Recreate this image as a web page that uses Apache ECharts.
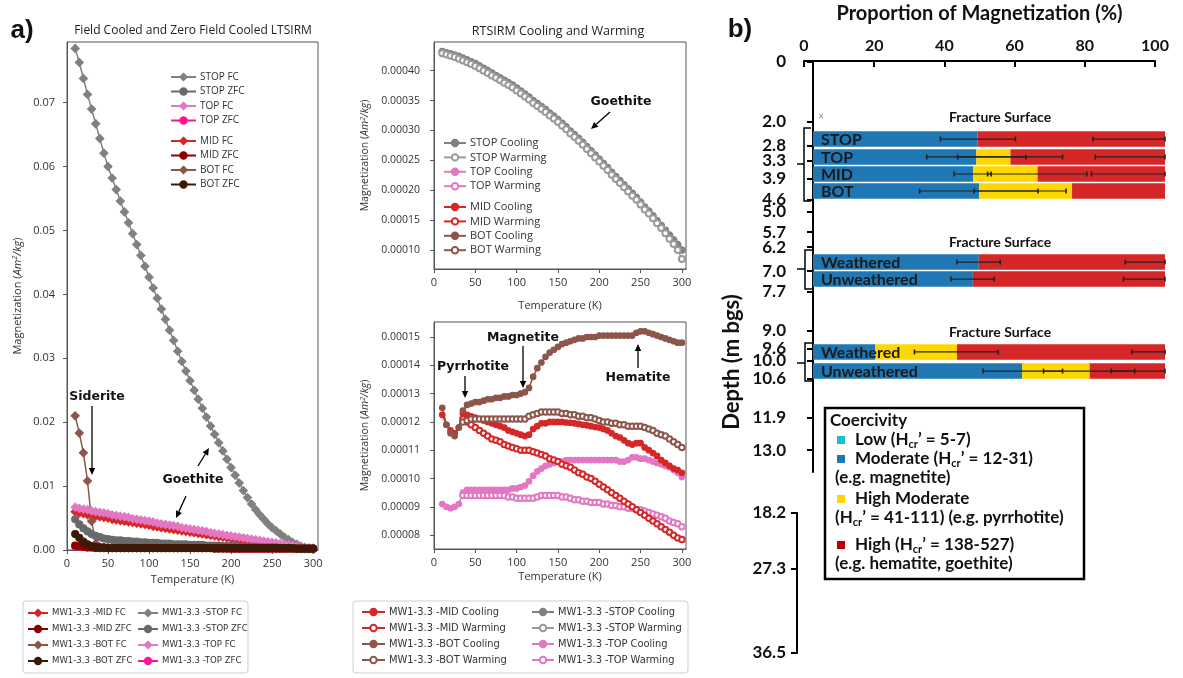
<!DOCTYPE html>
<html>
<head>
<meta charset="utf-8">
<title>LTSIRM / RTSIRM and coercivity proportions</title>
<script src="https://cdn.jsdelivr.net/npm/echarts@6.0.0/dist/echarts.min.js"></script>
<style>
  html, body { margin: 0; padding: 0; background: #fff; }
  #main { width: 1183px; height: 678px; }
</style>
</head>
<body>
<div id="main"></div>
<script>
// temperature steps (K), shared by all curves
var temps = [10,15,20,25,30,35,40,45,50,55,60,65,70,75,80,85,90,95,100,105,110,115,120,125,130,135,140,145,150,155,
  160,165,170,175,180,185,190,195,200,205,210,215,220,225,230,235,240,245,250,255,260,265,270,275,280,285,290,295,300];

// panel a, left: LTSIRM (Am2/kg)
var stopFC = [.0785,.0763,.0738,.0713,.0690,.0667,.0644,.0621,.0600,.0582,
  .0564,.0546,.0529,.0512,.0495,.0478,.0461,.0444,.0427,.0410,
  .0394,.0377,.0361,.0344,.0328,.0311,.0295,.0280,.0265,.0250,
  .0236,.0222,.0208,.0194,.0181,.0168,.0155,.0142,.0129,.0117,
  .0105,.0093,.0082,.0072,.0063,.0055,.0048,.0041,.0035,.0030,
  .0025,.0020,.0016,.0012,.0009,.0006,.0004,.0002,.0001];
var stopZFC = [.0048,.0040,.0034,.0029,.0025,.0022,.0020,.0018,.0017,.0016,
  .0015,.0015,.0014,.0014,.0013,.0013,.0012,.0012,.0011,.0011,
  .0011,.0010,.0010,.0010,.0009,.0009,.0009,.0009,.0008,.0008,
  .0008,.0008,.0007,.0007,.0007,.0007,.0006,.0006,.0006,.0006,
  .0005,.0005,.0005,.0005,.0005,.0004,.0004,.0004,.0004,.0004,
  .0003,.0003,.0003,.0003,.0003,.0002,.0002,.0002,.0002];
var topFC = [.0067,.0065,.0064,.0063,.0061,.0060,.0059,.0058,.0057,.0055,
  .0054,.0053,.0052,.0051,.0049,.0048,.0047,.0046,.0045,.0044,
  .0042,.0041,.0040,.0039,.0038,.0037,.0035,.0034,.0033,.0032,
  .0031,.0030,.0029,.0027,.0026,.0025,.0024,.0023,.0022,.0021,
  .0020,.0019,.0018,.0017,.0016,.0015,.0014,.0013,.0012,.0011,
  .0010,.0009,.0008,.0007,.0006,.0005,.0004,.0003,.0003];
var topZFC = [.0006,.0005,.0005,.0004,.0004,.0004,.0003,.0003,.0003,.0003,
  .0003,.0003,.0003,.0003,.0003,.0003,.0003,.0003,.0003,.0003,
  .0003,.0003,.0003,.0003,.0003,.0003,.0003,.0003,.0003,.0003,
  .0003,.0003,.0003,.0003,.0003,.0003,.0003,.0003,.0002,.0002,
  .0002,.0002,.0002,.0002,.0002,.0002,.0002,.0002,.0002,.0002,
  .0002,.0002,.0002,.0002,.0002,.0002,.0002,.0002,.0002];
var midFC = [.0060,.0058,.0057,.0055,.0054,.0053,.0052,.0051,.0050,.0048,
  .0047,.0046,.0045,.0044,.0043,.0042,.0041,.0040,.0039,.0037,
  .0036,.0035,.0034,.0033,.0032,.0031,.0030,.0029,.0028,.0027,
  .0026,.0025,.0024,.0023,.0022,.0021,.0020,.0019,.0018,.0017,
  .0016,.0015,.0014,.0013,.0012,.0011,.0011,.0010,.0009,.0008,
  .0007,.0007,.0006,.0005,.0004,.0004,.0003,.0003,.0002];
var midZFC = [.0007,.0006,.0005,.0004,.0004,.0003,.0003,.0003,.0003,.0003,
  .0003,.0003,.0003,.0003,.0003,.0003,.0003,.0003,.0003,.0003,
  .0003,.0003,.0003,.0003,.0003,.0003,.0003,.0003,.0003,.0003,
  .0003,.0003,.0003,.0003,.0002,.0002,.0002,.0002,.0002,.0002,
  .0002,.0002,.0002,.0002,.0002,.0002,.0002,.0002,.0002,.0002,
  .0002,.0002,.0002,.0002,.0002,.0002,.0002,.0002,.0002];
var botFC = [.0210,.0183,.0152,.0108,.0045,.0010,.0005,.0004,.0004,.0004,
  .0004,.0004,.0004,.0004,.0004,.0004,.0004,.0004,.0004,.0004,
  .0004,.0004,.0004,.0004,.0004,.0004,.0004,.0004,.0004,.0004,
  .0004,.0004,.0004,.0004,.0004,.0004,.0003,.0003,.0003,.0003,
  .0003,.0003,.0003,.0003,.0003,.0003,.0003,.0003,.0003,.0003,
  .0003,.0003,.0003,.0002,.0002,.0002,.0002,.0002,.0002];
var botZFC = [.0025,.0019,.0013,.0009,.0006,.0005,.0004,.0004,.0003,.0003,
  .0003,.0003,.0003,.0003,.0003,.0003,.0003,.0003,.0003,.0003,
  .0003,.0003,.0003,.0003,.0003,.0003,.0003,.0003,.0003,.0003,
  .0003,.0003,.0003,.0003,.0003,.0003,.0003,.0003,.0003,.0003,
  .0003,.0003,.0003,.0003,.0003,.0003,.0003,.0003,.0003,.0003,
  .0003,.0003,.0003,.0003,.0002,.0002,.0002,.0002,.0002];

// panel a, middle: RTSIRM cooling / warming (Am2/kg)
var stopCool = [43.2e-5,43.0e-5,42.8e-5,42.6e-5,42.4e-5,42.1e-5,41.8e-5,41.5e-5,41.2e-5,40.8e-5,
  40.4e-5,40.0e-5,39.6e-5,39.2e-5,38.8e-5,38.4e-5,38.0e-5,37.6e-5,37.1e-5,36.6e-5,
  36.1e-5,35.6e-5,35.0e-5,34.5e-5,34.0e-5,33.5e-5,32.9e-5,32.4e-5,31.8e-5,31.2e-5,
  30.6e-5,29.9e-5,29.3e-5,28.7e-5,28.0e-5,27.3e-5,26.6e-5,25.9e-5,25.2e-5,24.5e-5,
  23.8e-5,23.0e-5,22.3e-5,21.6e-5,20.9e-5,20.2e-5,19.5e-5,18.8e-5,18.0e-5,17.2e-5,
  16.5e-5,15.7e-5,14.9e-5,14.1e-5,13.3e-5,12.5e-5,11.7e-5,10.9e-5,10.0e-5];
var stopWarm = [42.9e-5,42.7e-5,42.5e-5,42.3e-5,42.0e-5,41.7e-5,41.4e-5,41.1e-5,40.8e-5,40.4e-5,
  40.0e-5,39.6e-5,39.2e-5,38.8e-5,38.4e-5,38.0e-5,37.6e-5,37.2e-5,36.7e-5,36.2e-5,
  35.7e-5,35.2e-5,34.6e-5,34.1e-5,33.6e-5,33.1e-5,32.5e-5,32.0e-5,31.4e-5,30.8e-5,
  30.2e-5,29.5e-5,28.9e-5,28.3e-5,27.6e-5,26.9e-5,26.2e-5,25.5e-5,24.8e-5,24.1e-5,
  23.4e-5,22.6e-5,21.9e-5,21.2e-5,20.5e-5,19.8e-5,19.1e-5,18.4e-5,17.6e-5,16.8e-5,
  16.1e-5,15.3e-5,14.5e-5,13.7e-5,12.8e-5,11.9e-5,11.0e-5,10.0e-5,8.5e-5];
var botCool = [12.5e-5,11.9e-5,11.6e-5,11.5e-5,11.8e-5,12.4e-5,12.6e-5,12.65e-5,12.7e-5,12.7e-5,
  12.75e-5,12.8e-5,12.8e-5,12.85e-5,12.85e-5,12.9e-5,12.9e-5,12.95e-5,12.95e-5,13.0e-5,
  13.05e-5,13.2e-5,13.6e-5,13.9e-5,14.1e-5,14.3e-5,14.45e-5,14.55e-5,14.65e-5,14.75e-5,
  14.8e-5,14.85e-5,14.9e-5,14.95e-5,14.95e-5,15.0e-5,15.0e-5,15.0e-5,15.05e-5,15.05e-5,
  15.05e-5,15.05e-5,15.05e-5,15.05e-5,15.05e-5,15.05e-5,15.05e-5,15.15e-5,15.2e-5,15.2e-5,
  15.15e-5,15.1e-5,15.05e-5,15.0e-5,14.95e-5,14.9e-5,14.85e-5,14.8e-5,14.8e-5];
var botWarm = [null,null,null,null,null,12.0e-5,12.05e-5,12.1e-5,12.1e-5,12.1e-5,
  12.1e-5,12.1e-5,12.1e-5,12.1e-5,12.1e-5,12.1e-5,12.1e-5,12.1e-5,12.1e-5,12.1e-5,
  12.1e-5,12.2e-5,12.25e-5,12.3e-5,12.35e-5,12.35e-5,12.35e-5,12.35e-5,12.35e-5,12.3e-5,
  12.3e-5,12.25e-5,12.25e-5,12.2e-5,12.2e-5,12.15e-5,12.15e-5,12.1e-5,12.05e-5,12.0e-5,
  12.0e-5,11.95e-5,11.95e-5,11.9e-5,11.9e-5,11.85e-5,11.85e-5,11.85e-5,11.85e-5,11.8e-5,
  11.75e-5,11.7e-5,11.6e-5,11.55e-5,11.5e-5,11.4e-5,11.3e-5,11.2e-5,11.1e-5];
var midCool = [12.25e-5,11.9e-5,11.7e-5,11.6e-5,11.8e-5,12.3e-5,12.25e-5,12.2e-5,12.15e-5,12.1e-5,
  12.05e-5,12.0e-5,11.95e-5,11.9e-5,11.85e-5,11.8e-5,11.7e-5,11.65e-5,11.6e-5,11.55e-5,
  11.5e-5,11.55e-5,11.75e-5,11.85e-5,11.95e-5,11.95e-5,12.0e-5,12.0e-5,12.0e-5,12.0e-5,
  11.98e-5,11.97e-5,11.95e-5,11.93e-5,11.9e-5,11.88e-5,11.85e-5,11.82e-5,11.8e-5,11.75e-5,
  11.7e-5,11.6e-5,11.5e-5,11.45e-5,11.35e-5,11.25e-5,11.2e-5,11.25e-5,11.25e-5,11.1e-5,
  11.0e-5,10.9e-5,10.8e-5,10.65e-5,10.55e-5,10.45e-5,10.35e-5,10.3e-5,10.2e-5];
var midWarm = [null,null,null,null,null,12.1e-5,12.0e-5,11.9e-5,11.8e-5,11.7e-5,
  11.6e-5,11.5e-5,11.4e-5,11.35e-5,11.3e-5,11.2e-5,11.15e-5,11.1e-5,11.05e-5,11.0e-5,
  11.0e-5,11.0e-5,10.95e-5,10.9e-5,10.85e-5,10.8e-5,10.7e-5,10.65e-5,10.6e-5,10.5e-5,
  10.45e-5,10.4e-5,10.3e-5,10.2e-5,10.15e-5,10.05e-5,10.0e-5,9.9e-5,9.8e-5,9.7e-5,
  9.6e-5,9.5e-5,9.4e-5,9.3e-5,9.2e-5,9.1e-5,9.0e-5,8.9e-5,8.8e-5,8.7e-5,
  8.6e-5,8.5e-5,8.4e-5,8.3e-5,8.2e-5,8.1e-5,8.0e-5,7.9e-5,7.85e-5];
var topCool = [9.1e-5,9.0e-5,8.95e-5,9.0e-5,9.1e-5,9.5e-5,9.6e-5,9.6e-5,9.6e-5,9.6e-5,
  9.6e-5,9.6e-5,9.6e-5,9.6e-5,9.6e-5,9.6e-5,9.6e-5,9.65e-5,9.65e-5,9.7e-5,
  9.75e-5,9.9e-5,10.1e-5,10.25e-5,10.35e-5,10.45e-5,10.5e-5,10.55e-5,10.6e-5,10.6e-5,
  10.65e-5,10.65e-5,10.65e-5,10.65e-5,10.65e-5,10.65e-5,10.65e-5,10.65e-5,10.65e-5,10.65e-5,
  10.65e-5,10.65e-5,10.65e-5,10.6e-5,10.6e-5,10.65e-5,10.75e-5,10.75e-5,10.7e-5,10.7e-5,
  10.65e-5,10.6e-5,10.55e-5,10.5e-5,10.45e-5,10.4e-5,10.3e-5,10.2e-5,10.05e-5];
var topWarm = [null,null,null,null,null,9.4e-5,9.4e-5,9.4e-5,9.4e-5,9.4e-5,
  9.4e-5,9.4e-5,9.4e-5,9.4e-5,9.4e-5,9.4e-5,9.35e-5,9.35e-5,9.3e-5,9.3e-5,
  9.3e-5,9.3e-5,9.3e-5,9.35e-5,9.4e-5,9.4e-5,9.4e-5,9.4e-5,9.4e-5,9.35e-5,
  9.35e-5,9.3e-5,9.25e-5,9.25e-5,9.2e-5,9.2e-5,9.15e-5,9.15e-5,9.15e-5,9.1e-5,
  9.1e-5,9.05e-5,9.05e-5,9.0e-5,9.0e-5,8.95e-5,8.95e-5,8.9e-5,8.9e-5,8.85e-5,
  8.8e-5,8.75e-5,8.7e-5,8.65e-5,8.6e-5,8.5e-5,8.45e-5,8.4e-5,8.3e-5];

// axis ticks of panel a
var tempTicks = [0, 50, 100, 150, 200, 250, 300];
var ltsirmTicks = [0, 0.01, 0.02, 0.03, 0.04, 0.05, 0.06, 0.07];
var rtTopTicks = [0.0001, 0.00015, 0.0002, 0.00025, 0.0003, 0.00035, 0.0004];
var rtBotTicks = [0.00008, 0.00009, 0.0001, 0.00011, 0.00012, 0.00013, 0.00014, 0.00015];

// panel b: proportion of magnetization (%) per sample
var rowLabels = ['STOP', 'TOP', 'MID', 'BOT', 'Weathered', 'Unweathered', 'Weathered', 'Unweathered'];
var rowDepths = [2.58, 3.18, 3.75, 4.32, 6.70, 7.27, 9.71, 10.35];
var lowPct = [0, 0, 0, 0, 0, 0, 0, 0];
var moderatePct = [46.7, 46.4, 45.5, 47.2, 47.1, 45.4, 17.7, 59.4];
var highModPct = [0, 9.7, 18.3, 26.4, 0, 0, 23.2, 19.2];
var highPct = [53.3, 43.9, 36.2, 26.4, 52.9, 54.6, 59.1, 21.4];
// error bars: [row index, low end, high end]
var errorBars = [[0, 36.2, 57.5], [0, 79.5, 100],
  [1, 32.3, 60.5], [1, 41.1, 70.9], [1, 80.2, 100],
  [2, 40.1, 50.6], [2, 49.6, 77.8], [2, 79.1, 100],
  [3, 30.3, 63.9], [3, 45.8, 71.9],
  [4, 40.9, 53.2], [4, 88.7, 100],
  [5, 39.2, 51.5], [5, 88.2, 100],
  [6, 28.8, 52.6], [6, 90.6, 100],
  [7, 48.3, 70.9], [7, 65.5, 91.4], [7, 84.7, 100]];
var depthTicks = [0, 2.0, 2.8, 3.3, 3.9, 4.6, 5.0, 5.7, 6.2, 7.0, 7.7, 9.0, 9.6, 10.0, 10.6, 11.9, 13.0];
var lowerDepthLabels = ['18.2', '', '27.3', '', '', '36.5'];
var coerColors = ['#17becf', '#1f77b4', '#ffd700', '#d62728'];

var F = "'Open Sans', sans-serif";
var NARROW = "'Liberation Sans Narrow', 'DejaVu Sans Condensed', Roboto, sans-serif";
var LATO = "Lato, sans-serif";
var P = 'MW1-3.3 -';

var pairs = function(arr) {
    return temps.map(function(t, i) { return [t, arr[i]]; });
};

var lineSeries = function(name, arr, idx, color, symbol, size) {
    return {
        name: P + name, type: 'line', xAxisIndex: idx, yAxisIndex: idx,
        data: pairs(arr), symbol: symbol, symbolSize: size,
        lineStyle: { color: color, width: 1.5 },
        itemStyle: { color: color, borderColor: color, borderWidth: 1.2 },
        emphasis: { disabled: true }
    };
};

var tempAxis = function(idx, max, gap) {
    return {
        gridIndex: idx, type: 'value', min: 0, max: max,
        name: 'Temperature (K)', nameLocation: 'middle', nameGap: gap,
        nameTextStyle: { fontFamily: F, fontSize: 11, color: '#333' },
        axisLine: { lineStyle: { color: '#555' } },
        axisTick: { length: 4, lineStyle: { color: '#555' }, customValues: tempTicks },
        axisLabel: { customValues: tempTicks, fontFamily: F, fontSize: 11, color: '#333' },
        splitLine: { show: false }
    };
};

var magAxis = function(idx, min, max, ticks, digits, size, gap, margin) {
    return {
        gridIndex: idx, type: 'value', min: min, max: max,
        name: 'Magnetization ({i|Am}{s|2}{i|/kg})', nameLocation: 'middle', nameGap: gap,
        nameTextStyle: {
            fontFamily: F, fontSize: size, color: '#333',
            rich: {
                i: { fontFamily: F, fontSize: size, fontStyle: 'italic', color: '#333' },
                s: { fontFamily: F, fontSize: size - 3.5, fontStyle: 'italic', color: '#333', padding: [0, 0, 6, 0] }
            }
        },
        axisLine: { show: true, lineStyle: { color: '#555' } },
        axisTick: { show: true, length: 4, lineStyle: { color: '#555' }, customValues: ticks },
        axisLabel: {
            customValues: ticks, margin: margin, fontFamily: F, fontSize: size, color: '#333',
            formatter: function(v) { return v.toFixed(digits); }
        },
        splitLine: { show: false }
    };
};

var legendBox = function(names, left, top, opt) {
    return {
        data: names.map(function(n) { return P + n; }),
        orient: 'vertical', left: left, top: top, padding: 0,
        itemGap: opt.gap, itemWidth: opt.w, itemHeight: 8,
        selectedMode: false,
        formatter: opt.short ? function(n) { return n.replace(P, ''); } : null,
        textStyle: { fontFamily: opt.font, fontSize: opt.size, lineHeight: opt.lh, color: '#333', padding: [0, 0, 0, -1] }
    };
};

// stacked coercivity bars, drawn through the depth / percent axes
var renderBars = function(params, api) {
    var depth = api.value(0);
    var h = 15.5;
    var children = [];
    var acc = 0;
    for (var k = 0; k < 4; k++) {
        var w = api.value(k + 1);
        if (w > 0) {
            var p0 = api.coord([acc, depth]);
            var p1 = api.coord([acc + w, depth]);
            children.push({
                type: 'rect',
                shape: { x: p0[0], y: p0[1] - h / 2, width: p1[0] - p0[0], height: h },
                style: { fill: coerColors[k] }
            });
        }
        acc += w;
    }
    var s = api.coord([0, depth]);
    children.push({
        type: 'text', x: s[0] + 8, y: s[1] + 0.5,
        style: { text: rowLabels[params.dataIndex], font: 'bold 16px ' + LATO, fill: '#1a1a1a', textVerticalAlign: 'middle' }
    });
    return { type: 'group', children: children };
};

var renderErr = function(params, api) {
    var depth = api.value(0);
    var a = api.coord([api.value(1), depth]);
    var b = api.coord([api.value(2), depth]);
    var st = { stroke: '#222', lineWidth: 1.2 };
    return {
        type: 'group', children: [
            { type: 'line', shape: { x1: a[0], y1: a[1], x2: b[0], y2: b[1] }, style: st },
            { type: 'line', shape: { x1: a[0], y1: a[1] - 2.5, x2: a[0], y2: a[1] + 2.5 }, style: { stroke: '#222', lineWidth: 1.6 } },
            { type: 'line', shape: { x1: b[0], y1: b[1] - 2.5, x2: b[0], y2: b[1] + 2.5 }, style: { stroke: '#222', lineWidth: 1.6 } }
        ]
    };
};

// small helpers for the annotations
var txt = function(x, y, s, font, extra) {
    var st = { text: s, font: font, fill: '#111', textAlign: 'center', textVerticalAlign: 'middle' };
    for (var k in (extra || {})) st[k] = extra[k];
    return { type: 'text', x: x, y: y, z: 100, style: st };
};
var arrow = function(x1, y1, x2, y2) {
    var ang = Math.atan2(y2 - y1, x2 - x1), L = 7, W = 3.2;
    var bx = x2 - L * Math.cos(ang), by = y2 - L * Math.sin(ang);
    var px = -Math.sin(ang) * W, py = Math.cos(ang) * W;
    return [
        { type: 'line', z: 100, shape: { x1: x1, y1: y1, x2: bx, y2: by }, style: { stroke: '#000', lineWidth: 1.3 } },
        { type: 'polygon', z: 100, shape: { points: [[x2, y2], [bx + px, by + py], [bx - px, by - py]] }, style: { fill: '#000' } }
    ];
};
var bracket = function(x, top, bottom, mid) {
    return [
        { type: 'polyline', z: 100, shape: { points: [[x + 7, top], [x, top], [x, bottom], [x + 7, bottom]] }, style: { stroke: '#000', lineWidth: 1.5, fill: null } },
        { type: 'line', z: 100, shape: { x1: 797, y1: mid, x2: x, y2: mid }, style: { stroke: '#000', lineWidth: 1.5 } }
    ];
};

var ANN = 'bold 12.5px "DejaVu Sans", sans-serif';
var KEY = 'bold 17px ' + LATO;
var sub = { s: { fontSize: 11, fontWeight: 'bold', fontFamily: LATO, fill: '#111', padding: [8, 0, 0, 0] } };

var graphics = [
    txt(22, 31, 'a)', 'bold 26px "Liberation Sans", sans-serif'),
    txt(740, 30, 'b)', 'bold 26px "Liberation Sans", sans-serif'),
    txt(193, 31, 'Field Cooled and Zero Field Cooled LTSIRM', '12px ' + F, { fill: '#222' }),
    txt(558, 31, 'RTSIRM Cooling and Warming', '12.5px ' + F, { fill: '#222' }),
    txt(97, 397, 'Siderite', ANN),
    txt(193, 480, 'Goethite', ANN),
    txt(621, 102, 'Goethite', ANN),
    txt(473, 367, 'Pyrrhotite', ANN),
    txt(523, 338, 'Magnetite', ANN),
    txt(638, 378, 'Hematite', ANN),
    // legend frames (matplotlib style)
    { type: 'rect', z: 90, shape: { x: 23, y: 601, width: 225, height: 72, r: 3 }, style: { fill: null, stroke: '#cfcfcf', lineWidth: 1 } },
    { type: 'rect', z: 90, shape: { x: 353, y: 601, width: 335, height: 72, r: 3 }, style: { fill: null, stroke: '#cfcfcf', lineWidth: 1 } },
    // panel b texts
    txt(1000, 117, 'Fracture Surface', 'bold 14px ' + LATO),
    txt(1000, 242, 'Fracture Surface', 'bold 14px ' + LATO),
    txt(1000, 332, 'Fracture Surface', 'bold 14px ' + LATO),
    txt(821, 117, '×', '10px ' + F, { fill: '#888' }),
    { type: 'text', x: 732, y: 362, rotation: Math.PI / 2, z: 100,
      style: { text: 'Depth (m bgs)', font: 'bold 22px ' + LATO, fill: '#111', textAlign: 'center', textVerticalAlign: 'middle' } },
    // coercivity key
    { type: 'rect', z: 95, shape: { x: 825, y: 408, width: 259, height: 171 }, style: { fill: '#fff', stroke: '#000', lineWidth: 2.5 } },
    txt(830, 421, 'Coercivity', 'bold 17px ' + LATO, { textAlign: 'left' }),
    { type: 'rect', z: 100, shape: { x: 837, y: 436, width: 8, height: 8 }, style: { fill: coerColors[0] } },
    { type: 'rect', z: 100, shape: { x: 837, y: 455, width: 8, height: 8 }, style: { fill: coerColors[1] } },
    { type: 'rect', z: 100, shape: { x: 837, y: 495, width: 8, height: 8 }, style: { fill: coerColors[2] } },
    { type: 'rect', z: 100, shape: { x: 837, y: 541, width: 8, height: 8 }, style: { fill: '#c00000' } },
    txt(855, 440, 'Low (H{s|cr}’ = 5-7)', KEY, { textAlign: 'left', rich: sub }),
    txt(855, 459, 'Moderate (H{s|cr}’ = 12-31)', KEY, { textAlign: 'left', rich: sub }),
    txt(835, 478, '(e.g. magnetite)', KEY, { textAlign: 'left' }),
    txt(855, 499, 'High Moderate', KEY, { textAlign: 'left' }),
    txt(835, 518, '(H{s|cr}’ = 41-111) (e.g. pyrrhotite)', KEY, { textAlign: 'left', rich: sub }),
    txt(855, 545, 'High (H{s|cr}’ = 138-527)', KEY, { textAlign: 'left', rich: sub }),
    txt(835, 564, '(e.g. hematite, goethite)', KEY, { textAlign: 'left' })
].concat(
    arrow(92, 406, 92, 475),
    arrow(198, 466, 209, 448),
    arrow(186, 496, 176, 518),
    arrow(610, 112, 591, 129),
    arrow(465, 376, 465, 398),
    arrow(523, 346, 523, 388),
    arrow(638, 368, 638, 344),
    bracket(804, 128, 201, 164),
    bracket(805, 250, 289, 269),
    bracket(805, 343, 381, 363)
);

var frame = { show: true, borderColor: '#555', borderWidth: 1, backgroundColor: 'transparent' };

var option = {
    animation: false,
    backgroundColor: '#fff',
    grid: [
        Object.assign({ left: 67, top: 42, width: 251, height: 508 }, frame),
        Object.assign({ left: 434, top: 42, width: 252, height: 227 }, frame),
        Object.assign({ left: 434, top: 322, width: 252, height: 227 }, frame),
        { left: 804, top: 60, width: 351, height: 1 },
        { left: 813, top: 62, width: 352, height: 410 },
        { left: 797, top: 513, width: 10, height: 140 }
    ],
    xAxis: [
        tempAxis(0, 306, 20),
        tempAxis(1, 305, 31),
        tempAxis(2, 305, 22),
        {
            gridIndex: 3, type: 'value', position: 'top', min: 0, max: 100, interval: 20,
            name: 'Proportion of Magnetization (%)', nameLocation: 'middle', nameGap: 36,
            nameTextStyle: { fontFamily: LATO, fontWeight: 'bold', fontSize: 20, color: '#111' },
            axisLine: { lineStyle: { color: '#000', width: 2 } },
            axisTick: { inside: true, length: 6, lineStyle: { color: '#000', width: 2 } },
            axisLabel: { margin: 6, fontFamily: LATO, fontWeight: 'bold', fontSize: 16, color: '#111' },
            splitLine: { show: false }
        },
        { gridIndex: 4, type: 'value', min: 0, max: 100, show: false },
        { gridIndex: 5, type: 'value', show: false }
    ],
    yAxis: [
        magAxis(0, 0, 0.0795, ltsirmTicks, 2, 11, 42, 12),
        magAxis(1, 0.0000683, 0.000448, rtTopTicks, 5, 10.5, 62, 14),
        magAxis(2, 0.0000751, 0.0001553, rtBotTicks, 5, 10.5, 62, 14),
        { gridIndex: 3, type: 'value', show: false },
        {
            gridIndex: 4, type: 'value', inverse: true, min: 0, max: 13.73, offset: 16,
            axisLine: { show: true, lineStyle: { color: '#000', width: 2 } },
            axisTick: { show: true, length: 6, lineStyle: { color: '#000', width: 2 }, customValues: depthTicks },
            axisLabel: {
                customValues: depthTicks, margin: 11, fontFamily: LATO, fontWeight: 'bold', fontSize: 17, color: '#111',
                formatter: function(v) { return v === 0 ? '0' : v.toFixed(1); }
            },
            splitLine: { show: false }
        },
        {
            gridIndex: 5, type: 'category', data: lowerDepthLabels, inverse: true, boundaryGap: false,
            axisLine: { show: true, lineStyle: { color: '#000', width: 2 } },
            axisTick: { show: true, length: 6, lineStyle: { color: '#000', width: 2 },
                interval: function(i, v) { return v !== ''; } },
            axisLabel: { margin: 11, fontFamily: LATO, fontWeight: 'bold', fontSize: 17, color: '#111',
                interval: function(i, v) { return v !== ''; } },
            splitLine: { show: false }
        }
    ],
    legend: [
        legendBox(['STOP FC', 'STOP ZFC', 'TOP FC', 'TOP ZFC'], 170, 70.5, { gap: 1.5, w: 25, font: F, size: 10, lh: 13, short: true }),
        legendBox(['MID FC', 'MID ZFC', 'BOT FC', 'BOT ZFC'], 170, 134.5, { gap: 1.5, w: 25, font: F, size: 10, lh: 13, short: true }),
        legendBox(['STOP Cooling', 'STOP Warming', 'TOP Cooling', 'TOP Warming'], 443, 136.5, { gap: 1.4, w: 22, font: F, size: 11, lh: 13, short: true }),
        legendBox(['MID Cooling', 'MID Warming', 'BOT Cooling', 'BOT Warming'], 443, 200.5, { gap: 1.4, w: 22, font: F, size: 11, lh: 13, short: true }),
        legendBox(['MID FC', 'MID ZFC', 'BOT FC', 'BOT ZFC'], 27, 606, { gap: 2, w: 20, font: NARROW, size: 9.5, lh: 14 }),
        legendBox(['STOP FC', 'STOP ZFC', 'TOP FC', 'TOP ZFC'], 137, 606, { gap: 2, w: 20, font: NARROW, size: 9.5, lh: 14 }),
        legendBox(['MID Cooling', 'MID Warming', 'BOT Cooling', 'BOT Warming'], 361, 605, { gap: 2, w: 23, font: NARROW, size: 11, lh: 14 }),
        legendBox(['STOP Cooling', 'STOP Warming', 'TOP Cooling', 'TOP Warming'], 531, 605, { gap: 2, w: 22, font: NARROW, size: 11, lh: 14 })
    ],
    series: [
        // LTSIRM
        lineSeries('STOP FC', stopFC, 0, '#808080', 'diamond', 8),
        lineSeries('MID FC', midFC, 0, '#d62728', 'diamond', 8),
        lineSeries('TOP FC', topFC, 0, '#e377c2', 'diamond', 8),
        lineSeries('STOP ZFC', stopZFC, 0, '#696969', 'circle', 7),
        lineSeries('TOP ZFC', topZFC, 0, '#ff1493', 'circle', 7),
        lineSeries('MID ZFC', midZFC, 0, '#8b0000', 'circle', 7),
        lineSeries('BOT FC', botFC, 0, '#8c564b', 'diamond', 8),
        lineSeries('BOT ZFC', botZFC, 0, '#3d1a05', 'circle', 7),
        // RTSIRM, upper panel
        lineSeries('STOP Cooling', stopCool, 1, '#808080', 'circle', 6.5),
        lineSeries('STOP Warming', stopWarm, 1, '#9a9a9a', 'emptyCircle', 6),
        // RTSIRM, lower panel
        lineSeries('TOP Cooling', topCool, 2, '#e377c2', 'circle', 5.5),
        lineSeries('TOP Warming', topWarm, 2, '#e377c2', 'emptyCircle', 5.5),
        lineSeries('MID Cooling', midCool, 2, '#d62728', 'circle', 5.5),
        lineSeries('MID Warming', midWarm, 2, '#d62728', 'emptyCircle', 5.5),
        lineSeries('BOT Cooling', botCool, 2, '#8c564b', 'circle', 5.5),
        lineSeries('BOT Warming', botWarm, 2, '#8c564b', 'emptyCircle', 5.5),
        // coercivity proportions
        {
            type: 'custom', name: 'proportions', xAxisIndex: 4, yAxisIndex: 4, silent: true,
            data: rowDepths.map(function(d, i) { return [d, lowPct[i], moderatePct[i], highModPct[i], highPct[i]]; }),
            renderItem: renderBars, z: 2
        },
        {
            type: 'custom', name: 'errors', xAxisIndex: 4, yAxisIndex: 4, silent: true,
            data: errorBars.map(function(e) { return [rowDepths[e[0]], e[1], e[2]]; }),
            renderItem: renderErr, z: 3
        }
    ],
    graphic: { elements: graphics }
};

var myChart = echarts.init(document.getElementById('main'));
myChart.setOption(option);
</script>
</body>
</html>
